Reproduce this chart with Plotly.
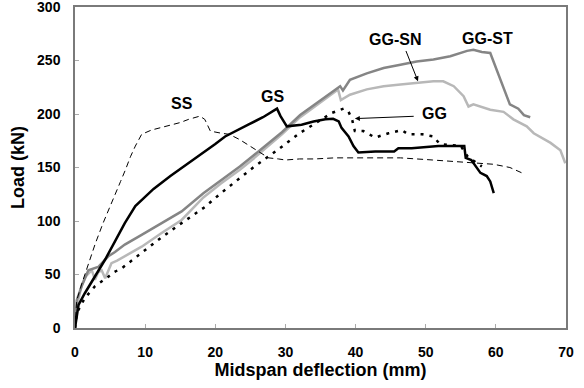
import plotly.graph_objects as go

# ---------------- data ----------------
ss_x = [0, 0.25, 1, 2, 2.9, 4, 4.8, 5.5, 6.5, 7.2, 7.9, 8.6, 9.5, 10.9, 12, 13.8, 15, 16.2, 17.3, 17.8,
        18.5, 19.3, 20.9, 22, 23.5, 24.7, 26, 27.6, 29, 30, 32, 34.2, 37, 41.4, 46.4, 51, 56, 59.7, 62, 63.7]
ss_y = [0, 26, 42, 62, 79, 98, 110, 121, 137, 148, 160, 170, 181, 185, 187, 190, 192, 195, 197, 198,
        195, 184, 182, 181, 176, 171, 165, 159, 158, 157, 158, 158, 159, 159, 159, 157, 155, 153, 150, 145]

gs_x = [0, 0.25, 0.5, 1.4, 2.85, 4.3, 5.7, 7.1, 8.6, 10, 11.2, 13.6, 16, 18.3, 20, 21.4, 23, 24.7, 26.8,
        28.8, 29.3, 30.2, 32.3, 34, 35.7, 36.8, 37.6, 38, 39, 39.7, 40.4, 42.8, 45.5, 46.1, 48, 51.8,
        55.5, 55.7, 56.5, 57.3, 57.8, 58.7, 59.2, 59.7]
gs_y = [0, 12, 21.5, 32.5, 48, 64, 81, 98, 114, 123, 130, 142, 153, 164, 172, 179, 184, 190, 197,
        205, 198, 188.5, 190, 193, 195, 195.5, 193, 187, 179, 170, 164, 165, 165, 168, 168, 170,
        170, 159, 157, 150, 145, 142, 137, 126]

gg_x = [0, 0.25, 1.4, 2.85, 4.75, 5.5, 6.7, 9.4, 12.4, 15.2, 18.5, 20.8, 23.5, 25.4, 28.8, 32, 34.2,
        36.6, 38.3, 39, 39.5, 39.9, 41.1, 42.8, 44.7, 46.6, 47.5, 49.5, 51.1, 52, 55, 56, 58]
gg_y = [0, 14, 28, 39, 48, 52, 56, 70, 85, 98, 113, 126, 140, 150, 166, 182, 191,
        201, 205, 202, 195, 184, 184, 178, 182, 185, 181, 181, 179, 172, 170, 160, 151]

st_x = [0, 0.25, 0.95, 1.9, 3.3, 4.75, 5.7, 7.1, 9.5, 12.4, 15.2, 18.3, 20.8, 23.5, 25.4, 29.5, 32.1,
        34.2, 36.8, 37.8, 38.2, 39.2, 41.6, 44, 46.4, 48.7, 51.1, 53.5, 55.9, 56.8, 58, 59.2, 62,
        63.2, 64, 64.9]
st_y = [0, 26, 39, 54, 57, 67, 71, 78, 87, 98, 109, 126, 138, 151, 161, 183, 199,
        209, 222, 226, 222, 232, 238, 243, 246, 249, 251, 254, 259, 260, 258, 257, 209,
        205, 199, 197]

sn_x = [0, 0.25, 0.95, 1.5, 2.4, 2.85, 3.3, 3.8, 4.3, 5.2, 6, 7.1, 9.5, 12.4, 15.2, 18.3, 20.8, 23.5,
        25.4, 29.5, 32.1, 34.2, 36.8, 37.5, 37.9, 39.2, 41.6, 44, 46.4, 48.7, 51.1, 52.5, 54, 55.4,
        56.1, 56.8, 59.2, 61.1, 62.5, 64.4, 65.4, 67.8, 69.2, 69.9]
sn_y = [0, 20, 40, 48, 54, 45, 52, 54, 46.5, 60.6, 63, 67, 76, 89, 101, 122, 135, 148,
        158, 181, 197, 207, 220, 223, 213, 218, 223, 226, 227.5, 229, 230.6, 230.6, 226, 216.6,
        207, 209, 204, 202, 195, 188.5, 182, 173, 166, 154]

x_ticks = [0, 10, 20, 30, 40, 50, 60, 70]
y_ticks = [0, 50, 100, 150, 200, 250, 300]

FONT = "Liberation Sans, Arial, sans-serif"

fig = go.Figure()
fig.add_trace(go.Scatter(x=sn_x, y=sn_y, mode="lines", name="GG-SN",
                         line=dict(color="#b8b8b8", width=2.5)))
fig.add_trace(go.Scatter(x=st_x, y=st_y, mode="lines", name="GG-ST",
                         line=dict(color="#858585", width=2.5)))
fig.add_trace(go.Scatter(x=ss_x, y=ss_y, mode="lines", name="SS",
                         line=dict(color="black", width=1, dash="6px,4px")))
fig.add_trace(go.Scatter(x=gg_x, y=gg_y, mode="lines", name="GG",
                         line=dict(color="black", width=2.5, dash="3px,6px")))
fig.add_trace(go.Scatter(x=gs_x, y=gs_y, mode="lines", name="GS",
                         line=dict(color="black", width=2.5)))

labels = [("SS", 15.2, 209.6), ("GS", 28.1, 216), ("GG-SN", 45.65, 269.7),
          ("GG-ST", 58.85, 270.6), ("GG", 51.2, 200.4)]
for t, x, y in labels:
    fig.add_annotation(x=x, y=y, text=t, showarrow=False, xref="x", yref="y",
                       font=dict(family=FONT, size=16, color="black", weight="bold"))

# arrows
fig.add_annotation(x=48.9, y=230.6, ax=47.1, ay=260.3, axref="x", ayref="y", xref="x", yref="y",
                   text="", showarrow=True, arrowhead=2, arrowsize=1, arrowwidth=1, arrowcolor="black")
fig.add_annotation(x=39.9, y=195.7, ax=48.5, ay=197.9, axref="x", ayref="y", xref="x", yref="y",
                   text="", showarrow=True, arrowhead=2, arrowsize=1, arrowwidth=1, arrowcolor="black")

axis_common = dict(showgrid=False, zeroline=False, showline=True, mirror=True, automargin=False,
                   linecolor="#7a7a7a", linewidth=1.5, ticks="inside", ticklen=4,
                   tickcolor="#aaaaaa", tickwidth=1, ticklabeloverflow="allow",
                   tickfont=dict(family=FONT, size=14, color="black", weight="bold"))

fig.update_layout(
    width=584, height=388,
    margin=dict(l=75, r=18, t=7, b=60),
    paper_bgcolor="white", plot_bgcolor="white",
    showlegend=False,
    xaxis=dict(range=[0, 70], tickvals=x_ticks, ticklabelstandoff=10,
               title=dict(text="Midspan deflection (mm)", standoff=4,
                          font=dict(family=FONT, size=18, color="black", weight="bold")),
               **axis_common),
    yaxis=dict(range=[0, 300], tickvals=y_ticks, ticklabelstandoff=10,
               title=dict(text="Load (kN)", standoff=8,
                          font=dict(family=FONT, size=18, color="black", weight="bold")),
               **axis_common),
)

fig.write_html("out.html", config={"displayModeBar": False},
               post_script="document.body.style.margin='0';document.body.style.overflow='hidden';")
